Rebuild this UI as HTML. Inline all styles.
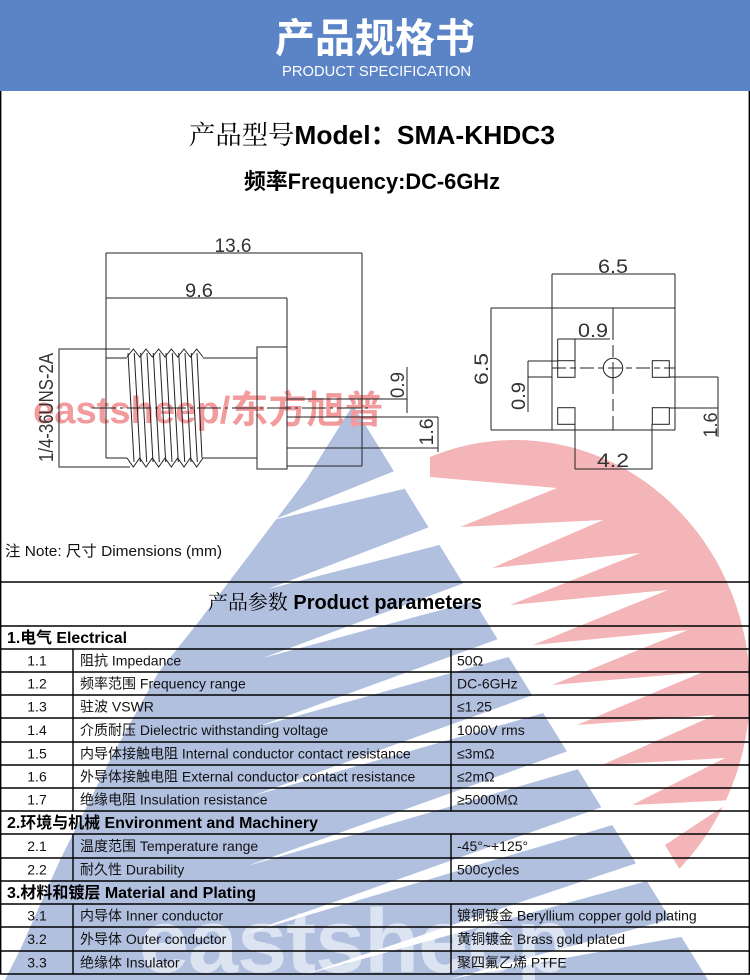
<!DOCTYPE html>
<html><head><meta charset="utf-8">
<style>
html,body{margin:0;padding:0;background:#fff;width:750px;height:980px;overflow:hidden}
#wrap{position:relative;width:750px;height:980px;overflow:hidden}
svg{display:block;position:absolute;left:0;top:0}
text{font-family:"Liberation Sans","Noto Sans CJK SC",sans-serif}
.d{stroke:#222;stroke-width:1;fill:none}
.dt{font-size:19px;fill:#333}
.tb{stroke:#000;stroke-width:1.4;fill:none}
.c{font-size:14px;fill:#111}
.h{font-size:16px;font-weight:bold;fill:#000}
#big{position:absolute;left:139px;top:892px;width:560px;height:88px;overflow:hidden;
 font-family:"Liberation Sans",sans-serif;font-weight:bold;font-size:90px;line-height:100px;
 letter-spacing:-1px;color:rgba(255,255,255,0.55);white-space:nowrap}
</style></head><body>
<div id="wrap">
<svg width="750" height="980" viewBox="0 0 750 980" xmlns="http://www.w3.org/2000/svg">
<defs>
<clipPath id="ell"><ellipse cx="515" cy="690" rx="235" ry="250"/></clipPath>
</defs>
<rect width="750" height="980" fill="#fff"/>
<g clip-path="url(#ell)">
<polygon fill="#f3b5b7" points="430,400 430,477 557,488 460,527 603,520 492,568 640,553 510,605 668,590 533,645 688,630 552,685 703,672 577,725 715,715 602,765 725,758 632,805 733,800 665,845 680,870 800,870 800,400"/>
</g>
<polygon fill="#b2c0e0" points="353,405 708,980 5,980 20,950 60,860 110,760 158,673 200,620 253,550 306,480"/>
<g fill="#fff">
<polygon points="397,470 408,488 273,520"/>
<polygon points="432,526 443,544 268,589"/>
<polygon points="467,582 478,600 263,658"/>
<polygon points="501,638 512,656 257,727"/>
<polygon points="536,694 547,712 252,796"/>
<polygon points="571,750 582,768 247,866"/>
<polygon points="605,806 616,824 241,935"/>
<polygon points="640,862 651,880 300,976"/>
<polygon points="675,918 686,936 450,979"/>
</g>
<text x="33" y="423" font-size="38" font-weight="bold" fill="#f29a9c" textLength="350" lengthAdjust="spacingAndGlyphs">eastsheep/东方旭普</text>
</svg>

<div id="big">eastsheep</div>

<svg width="750" height="980" viewBox="0 0 750 980" xmlns="http://www.w3.org/2000/svg">
<!-- header -->
<rect x="0" y="0" width="750" height="91" fill="#5a84c6"/>
<text x="375" y="52" font-size="40" font-weight="bold" fill="#fff" text-anchor="middle" style="font-family:'Noto Sans CJK SC',sans-serif">产品规格书</text>
<text x="282" y="76" font-size="15" fill="#fff" textLength="189" lengthAdjust="spacingAndGlyphs">PRODUCT SPECIFICATION</text>

<!-- titles -->
<text x="189" y="144" font-size="26" fill="#000" textLength="366" lengthAdjust="spacingAndGlyphs"><tspan style="font-family:'Noto Serif CJK SC',serif">产品型号</tspan><tspan font-weight="bold">Model：SMA-KHDC3</tspan></text>
<text x="244" y="189" font-size="22" font-weight="bold" fill="#000" textLength="256" lengthAdjust="spacingAndGlyphs">频率Frequency:DC-6GHz</text>

<!-- left drawing -->
<g class="d">
<line x1="106" y1="253" x2="362" y2="253"/>
<line x1="106" y1="253" x2="106" y2="458"/>
<line x1="362" y1="253" x2="362" y2="466"/>
<line x1="106" y1="298" x2="287" y2="298"/>
<line x1="287" y1="298" x2="287" y2="347"/>
<polyline points="130,349 59,349 59,467 130,467"/>
<line x1="106" y1="358" x2="127" y2="358"/>
<line x1="106" y1="458" x2="127" y2="458"/>
<line x1="203" y1="358" x2="257" y2="358"/>
<line x1="203" y1="458" x2="257" y2="458"/>
<rect x="257" y="347" width="30" height="122"/>
<line x1="287" y1="399" x2="407" y2="399"/>
<line x1="287" y1="417" x2="438" y2="417"/>
<line x1="287" y1="448" x2="438" y2="448"/>
<line x1="287" y1="466" x2="362" y2="466"/>
<line x1="407" y1="367" x2="407" y2="413"/>
<line x1="438" y1="417" x2="438" y2="452"/>
<line x1="92" y1="408" x2="368" y2="408" stroke-dasharray="24,4,3,4"/>
<polyline points="127,357 133.3,349 139.7,357 146,349 152.3,357 158.7,349 165,357 171.3,349 177.7,357 184,349 190.3,357 196.7,349 203,357"/>
<polyline points="127,458 133.3,467 139.7,458 146,467 152.3,458 158.7,467 165,458 171.3,467 177.7,458 184,467 190.3,458 196.7,467 203,458"/>
<line x1="128" y1="353" x2="134" y2="462"/>
<line x1="134.3" y1="353" x2="140.3" y2="462"/>
<line x1="140.7" y1="353" x2="146.7" y2="462"/>
<line x1="147" y1="353" x2="153" y2="462"/>
<line x1="153.3" y1="353" x2="159.3" y2="462"/>
<line x1="159.7" y1="353" x2="165.7" y2="462"/>
<line x1="166" y1="353" x2="172" y2="462"/>
<line x1="172.3" y1="353" x2="178.3" y2="462"/>
<line x1="178.7" y1="353" x2="184.7" y2="462"/>
<line x1="185" y1="353" x2="191" y2="462"/>
<line x1="191.3" y1="353" x2="197.3" y2="462"/>
<line x1="197" y1="353" x2="202" y2="458"/>
</g>
<text class="dt" x="233" y="252" text-anchor="middle" textLength="37" lengthAdjust="spacingAndGlyphs">13.6</text>
<text class="dt" x="199" y="297" text-anchor="middle" textLength="28" lengthAdjust="spacingAndGlyphs">9.6</text>
<text class="dt" transform="translate(404,385) rotate(-90)" text-anchor="middle" textLength="26" lengthAdjust="spacingAndGlyphs">0.9</text>
<text class="dt" transform="translate(433,432) rotate(-90)" text-anchor="middle" textLength="27" lengthAdjust="spacingAndGlyphs">1.6</text>
<text class="dt" style="font-size:20px" transform="translate(53,407.5) rotate(-90)" text-anchor="middle" textLength="109" lengthAdjust="spacingAndGlyphs">1/4-36UNS-2A</text>

<!-- right drawing -->
<g class="d">
<line x1="552" y1="274" x2="675" y2="274"/>
<line x1="552" y1="274" x2="552" y2="430"/>
<line x1="675" y1="274" x2="675" y2="430"/>
<line x1="491" y1="308" x2="675" y2="308"/>
<line x1="491" y1="430" x2="675" y2="430"/>
<line x1="491" y1="308" x2="491" y2="430"/>
<line x1="613" y1="308" x2="613" y2="430" stroke-dasharray="32,5,12,5"/>
<line x1="552" y1="368" x2="675" y2="368" stroke-dasharray="14,4,6,4"/>
<circle cx="613" cy="368" r="9.7"/>
<rect x="557.7" y="360.7" width="17.3" height="16.6"/>
<rect x="652.3" y="360.7" width="17" height="16.6"/>
<rect x="557.7" y="407.7" width="17.3" height="16.6"/>
<rect x="652.3" y="407.7" width="17" height="16.6"/>
<line x1="557.7" y1="339" x2="610" y2="339"/>
<line x1="557.7" y1="339" x2="557.7" y2="361"/>
<line x1="575" y1="339" x2="575" y2="361"/>
<line x1="528" y1="361" x2="557.7" y2="361"/>
<line x1="528" y1="377" x2="552" y2="377"/>
<line x1="528" y1="361" x2="528" y2="412"/>
<line x1="669" y1="377" x2="718" y2="377"/>
<line x1="669" y1="408" x2="718" y2="408"/>
<line x1="718" y1="377" x2="718" y2="437"/>
<line x1="575" y1="424" x2="575" y2="469"/>
<line x1="652" y1="424" x2="652" y2="469"/>
<line x1="575" y1="469" x2="652" y2="469"/>
</g>
<text class="dt" x="613" y="273" text-anchor="middle" textLength="30" lengthAdjust="spacingAndGlyphs">6.5</text>
<text class="dt" transform="translate(488,369) rotate(-90)" text-anchor="middle" textLength="32" lengthAdjust="spacingAndGlyphs">6.5</text>
<text class="dt" x="593" y="337" text-anchor="middle" textLength="30" lengthAdjust="spacingAndGlyphs">0.9</text>
<text class="dt" transform="translate(525,396) rotate(-90)" text-anchor="middle" textLength="28" lengthAdjust="spacingAndGlyphs">0.9</text>
<text class="dt" transform="translate(717,425) rotate(-90)" text-anchor="middle" textLength="25" lengthAdjust="spacingAndGlyphs">1.6</text>
<text class="dt" x="613" y="467" text-anchor="middle" textLength="32" lengthAdjust="spacingAndGlyphs">4.2</text>

<text x="5" y="556" font-size="15" fill="#111" textLength="217" lengthAdjust="spacingAndGlyphs">注 Note:  尺寸 Dimensions (mm)</text>

<!-- table lines -->
<g class="tb">
<line x1="0.7" y1="91" x2="0.7" y2="974"/>
<line x1="749.3" y1="91" x2="749.3" y2="974"/>
<line x1="0" y1="582" x2="750" y2="582"/>
<line x1="0" y1="626" x2="750" y2="626"/>
<line x1="0" y1="649" x2="750" y2="649"/>
<line x1="0" y1="672" x2="750" y2="672"/>
<line x1="0" y1="695" x2="750" y2="695"/>
<line x1="0" y1="718" x2="750" y2="718"/>
<line x1="0" y1="742" x2="750" y2="742"/>
<line x1="0" y1="765" x2="750" y2="765"/>
<line x1="0" y1="788" x2="750" y2="788"/>
<line x1="0" y1="811" x2="750" y2="811"/>
<line x1="0" y1="834" x2="750" y2="834"/>
<line x1="0" y1="858" x2="750" y2="858"/>
<line x1="0" y1="881" x2="750" y2="881"/>
<line x1="0" y1="904" x2="750" y2="904"/>
<line x1="0" y1="927" x2="750" y2="927"/>
<line x1="0" y1="951" x2="750" y2="951"/>
<line x1="0" y1="974" x2="750" y2="974"/>
<line x1="73" y1="649" x2="73" y2="811"/>
<line x1="451" y1="649" x2="451" y2="811"/>
<line x1="73" y1="834" x2="73" y2="881"/>
<line x1="451" y1="834" x2="451" y2="881"/>
<line x1="73" y1="904" x2="73" y2="974"/>
<line x1="451" y1="904" x2="451" y2="974"/>
</g>

<text x="208" y="609" font-size="20" fill="#000" textLength="274" lengthAdjust="spacingAndGlyphs"><tspan style="font-family:'Noto Serif CJK SC',serif">产品参数</tspan><tspan font-weight="bold"> Product parameters</tspan></text>

<text class="h" x="7" y="643" textLength="120" lengthAdjust="spacingAndGlyphs">1.电气 Electrical</text>
<text class="h" x="7" y="828" textLength="311" lengthAdjust="spacingAndGlyphs">2.环境与机械 Environment and Machinery</text>
<text class="h" x="7" y="898" textLength="249" lengthAdjust="spacingAndGlyphs">3.材料和镀层 Material and Plating</text>

<g class="c">
<text x="37" y="665.5" text-anchor="middle">1.1</text>
<text x="37" y="688.5" text-anchor="middle">1.2</text>
<text x="37" y="711.5" text-anchor="middle">1.3</text>
<text x="37" y="735" text-anchor="middle">1.4</text>
<text x="37" y="758.5" text-anchor="middle">1.5</text>
<text x="37" y="781.5" text-anchor="middle">1.6</text>
<text x="37" y="804.5" text-anchor="middle">1.7</text>
<text x="37" y="851" text-anchor="middle">2.1</text>
<text x="37" y="874.5" text-anchor="middle">2.2</text>
<text x="37" y="920.5" text-anchor="middle">3.1</text>
<text x="37" y="944" text-anchor="middle">3.2</text>
<text x="37" y="967.5" text-anchor="middle">3.3</text>

<text x="80" y="665.5">阻抗 Impedance</text>
<text x="80" y="688.5">频率范围 Frequency range</text>
<text x="80" y="711.5">驻波 VSWR</text>
<text x="80" y="735">介质耐压 Dielectric withstanding voltage</text>
<text x="80" y="758.5">内导体接触电阻 Internal conductor contact resistance</text>
<text x="80" y="781.5">外导体接触电阻 External conductor contact resistance</text>
<text x="80" y="804.5">绝缘电阻  Insulation resistance</text>
<text x="80" y="851">温度范围 Temperature range</text>
<text x="80" y="874.5">耐久性 Durability</text>
<text x="80" y="920.5">内导体 Inner conductor</text>
<text x="80" y="944">外导体 Outer conductor</text>
<text x="80" y="967.5">绝缘体 Insulator</text>

<text x="457" y="665.5">50Ω</text>
<text x="457" y="688.5">DC-6GHz</text>
<text x="457" y="711.5">≤1.25</text>
<text x="457" y="735">1000V rms</text>
<text x="457" y="758.5">≤3mΩ</text>
<text x="457" y="781.5">≤2mΩ</text>
<text x="457" y="804.5">≥5000MΩ</text>
<text x="457" y="851">-45°~+125°</text>
<text x="457" y="874.5">500cycles</text>
<text x="457" y="920.5">镀铜镀金 Beryllium copper gold plating</text>
<text x="457" y="944">黄铜镀金  Brass gold plated</text>
<text x="457" y="967.5">聚四氟乙烯 PTFE</text>
</g>
</svg>
</div>
</body></html>
